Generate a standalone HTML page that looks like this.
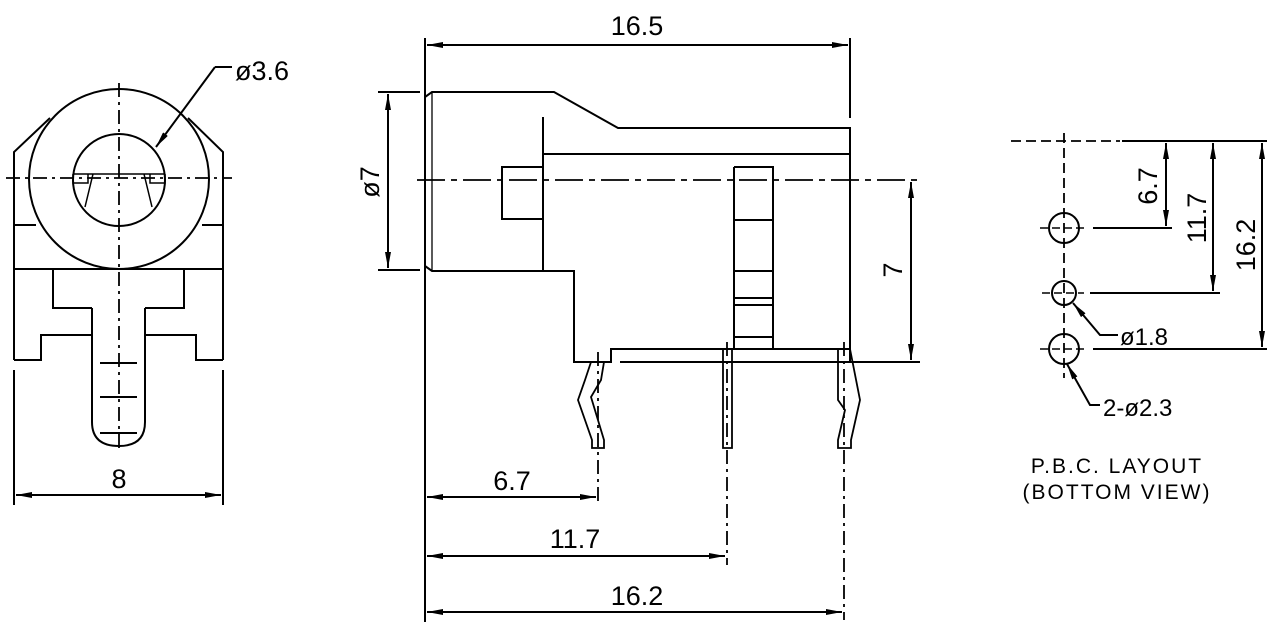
<!DOCTYPE html>
<html><head><meta charset="utf-8"><style>
html,body{margin:0;padding:0;background:#fff;}
svg{display:block}
text{font-family:"Liberation Sans",sans-serif;fill:#000;}
</style></head><body>
<svg width="1285" height="639" viewBox="0 0 1285 639" xmlns="http://www.w3.org/2000/svg">
<defs>
<marker id="a" viewBox="0 0 16 6" refX="16" refY="3" markerWidth="16" markerHeight="6" markerUnits="userSpaceOnUse" orient="auto-start-reverse"><path d="M0,0 L16,3 L0,6 Z" fill="#000"/></marker>
</defs>
<g fill="none" stroke="#000" stroke-width="2">
<!-- LEFT VIEW -->
<circle cx="119" cy="179" r="90"/>
<circle cx="119" cy="180" r="46"/>
<path d="M14,360 V152 L50,118 M223,360 V152 L188,118"/>
<path d="M14,225 H36 M202,225 H223 M14,269 H223"/>
<path d="M14,360 H41 V335 H92 M145,335 H196 V360 H223"/>
<path d="M53,269 V308 H92 M145,308 H184 V269"/>
<path d="M92,308 V422 Q92,446 119,446 Q145,446 145,422 V308"/>
<path d="M100,363 H137 M100,397 H137 M100,433 H137"/>
<path d="M73,174 H165 M73,174 V183 H88 V174 M165,174 V183 H150 V174 M93,174 L85,207 M144,174 L152,207" stroke-width="1.5"/>
<path d="M119,83 V450 M6,178 H232" stroke-dasharray="14,5,3,5" stroke-width="1.8"/>
<path d="M215,67 H232 M215,67 L156,147" marker-end="url(#a)"/>
<path d="M14,370 V505 M223,370 V505"/>
<path d="M16,495 H221" marker-start="url(#a)" marker-end="url(#a)"/>

<!-- MIDDLE VIEW -->
<path d="M425,38 V622 M850,38 V118"/>
<path d="M427,45 H848" marker-start="url(#a)" marker-end="url(#a)"/>
<path d="M378,92 H420 M378,270 H420"/>
<path d="M388,94 V268" marker-start="url(#a)" marker-end="url(#a)"/>
<path d="M425,97 L432,92 H554 L618,128 H850 V362 M425,266 L432,271 H574 V362 H611 V349 H850"/>
<path d="M432,92 V271" stroke-width="1.3"/>
<path d="M543,117 V271 M543,154 H850"/>
<path d="M502,167 H543 V219 H502 Z"/>
<path d="M734,167 H773 V349 M734,167 V349 M734,220 H773 M734,271 H773 M734,298 H773 M734,305 H773 M734,337 H773"/>
<path d="M417,180 H920" stroke-dasharray="28,6,6,6" stroke-width="1.8"/>
<path d="M620,362 H920"/>
<path d="M911,182 V360" marker-start="url(#a)" marker-end="url(#a)"/>
<path d="M591,362 L585,380 L578,400 L592,440 V448 H604 V440 L591,397 L601,380 L604,362" stroke-width="1.8"/>
<path d="M723,349 V448 H732 V349" stroke-width="1.8"/>
<path d="M838,349 V400 L845,410 L838,440 V448 H851 V440 L860,400 L850,349" stroke-width="1.8"/>
<path d="M598,352 V505 M727,342 V565 M844,342 V620" stroke-dasharray="14,5,3,5" stroke-width="1.8"/>
<path d="M427,497 H596" marker-start="url(#a)" marker-end="url(#a)"/>
<path d="M427,556 H725" marker-start="url(#a)" marker-end="url(#a)"/>
<path d="M427,612 H842" marker-start="url(#a)" marker-end="url(#a)"/>

<!-- RIGHT VIEW -->
<path d="M1011,141 H1120 M1064,133 V378" stroke-dasharray="10,5" stroke-width="1.8"/>
<path d="M1122,141 H1267"/>
<circle cx="1064" cy="228" r="15"/>
<circle cx="1064" cy="293" r="12"/>
<circle cx="1064" cy="349" r="15"/>
<path d="M1040,228 H1086 M1042,293 H1084 M1040,349 H1086" stroke-dasharray="8,4" stroke-width="1.5"/>
<path d="M1093,228 H1172 M1090,293 H1220 M1093,349 H1267"/>
<path d="M1166,143 V226" marker-start="url(#a)" marker-end="url(#a)"/>
<path d="M1213,143 V291" marker-start="url(#a)" marker-end="url(#a)"/>
<path d="M1262,143 V347" marker-start="url(#a)" marker-end="url(#a)"/>
<path d="M1118,335 H1100 L1073,303" marker-end="url(#a)"/>
<path d="M1100,405 H1090 L1067,364" marker-end="url(#a)"/>
</g>
<g font-size="27">
<text x="235" y="80">ø3.6</text>
<text x="119" y="488" text-anchor="middle">8</text>
<text x="637" y="35" text-anchor="middle">16.5</text>
<text x="512" y="490" text-anchor="middle">6.7</text>
<text x="575" y="548" text-anchor="middle">11.7</text>
<text x="637" y="605" text-anchor="middle">16.2</text>
<text transform="translate(379,182) rotate(-90)" text-anchor="middle">ø7</text>
<text transform="translate(902,270) rotate(-90)" text-anchor="middle">7</text>
<text transform="translate(1157,186) rotate(-90)" text-anchor="middle">6.7</text>
<text transform="translate(1206,218) rotate(-90)" text-anchor="middle">11.7</text>
<text transform="translate(1255,245) rotate(-90)" text-anchor="middle">16.2</text>
<text x="1120" y="345" font-size="24">ø1.8</text>
<text x="1103" y="416" font-size="24">2-ø2.3</text>
</g>
<g font-size="21" text-anchor="middle" letter-spacing="2">
<text x="1117" y="473">P.B.C. LAYOUT</text>
<text x="1117" y="499">(BOTTOM VIEW)</text>
</g>
</svg>
</body></html>
